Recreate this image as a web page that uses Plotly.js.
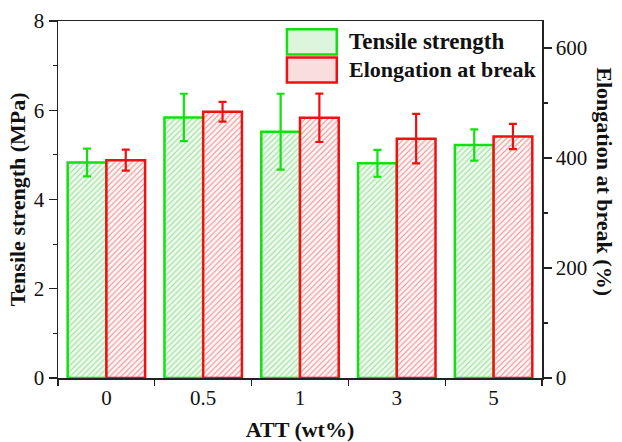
<!DOCTYPE html>
<html>
<head>
<meta charset="utf-8">
<script src="https://cdn.plot.ly/plotly-3.0.1.min.js"></script>
<style>html,body{margin:0;padding:0;background:#fff;}#chart{width:622px;height:442px;}</style>
</head>
<body>
<div id="chart"></div>
<script>
var categories = ['0', '0.5', '1', '3', '5'];
var tensileStrength = [4.83, 5.84, 5.52, 4.81, 5.22];
var tensileError = [0.31, 0.53, 0.85, 0.30, 0.35];
var elongation = [396, 484, 473, 435, 439];
var elongationError = [19, 18, 44, 45, 23];
var seriesNames = ['Tensile strength', 'Elongation at break'];

var green = '#11e011';
var red = '#ee1111';
var FONT = "'Liberation Serif', 'Times New Roman', serif";

var traces = [
  {
    type: 'bar', name: seriesNames[0], x: categories, y: tensileStrength,
    xaxis: 'x', yaxis: 'y', offsetgroup: '1', showlegend: false,
    marker: {color: '#eefaee', line: {color: green, width: 2.5},
      pattern: {shape: '/', fgcolor: '#98de98', bgcolor: '#effaef', size: 4, solidity: 0.28}},
    error_y: {type: 'data', array: tensileError, visible: true, color: green, thickness: 2.2, width: 4}
  },
  {
    type: 'bar', name: seriesNames[1], x: categories, y: elongation,
    xaxis: 'x', yaxis: 'y2', offsetgroup: '2', showlegend: false,
    marker: {color: '#fff4f4', line: {color: red, width: 2.5},
      pattern: {shape: '/', fgcolor: '#e89090', bgcolor: '#fff5f5', size: 4, solidity: 0.28}},
    error_y: {type: 'data', array: elongationError, visible: true, color: red, thickness: 2.2, width: 4}
  }
];

var layout = {
  width: 622, height: 442,
  margin: {l: 58, r: 80, t: 21, b: 64},
  paper_bgcolor: '#fff', plot_bgcolor: '#fff',
  font: {family: FONT, size: 20, color: '#111'},
  barmode: 'group', bargap: 0.2, bargroupgap: 0,
  showlegend: false,
  xaxis: {
    type: 'category', showgrid: false, zeroline: false,
    showline: true, linecolor: '#222', linewidth: 1.5, mirror: true,
    ticks: 'outside', tickson: 'boundaries', ticklen: 6, tickwidth: 1.2, tickcolor: '#222',
    tickfont: {family: FONT, size: 21, color: '#111'},
    title: {text: '<b>ATT (wt%)</b>', font: {family: FONT, size: 22, color: '#111'}, standoff: 16}
  },
  yaxis: {
    range: [0, 8], dtick: 2, showgrid: false, zeroline: false,
    showline: true, linecolor: '#222', linewidth: 1.5,
    ticks: 'outside', ticklen: 8, tickwidth: 1.2, tickcolor: '#222',
    minor: {dtick: 1, ticks: 'outside', ticklen: 4, tickwidth: 1.2, tickcolor: '#222', showgrid: false},
    tickfont: {family: FONT, size: 21, color: '#111'}
  },
  yaxis2: {
    overlaying: 'y', side: 'right', range: [0, 649], dtick: 200, showgrid: false, zeroline: false,
    showline: true, linecolor: '#222', linewidth: 1.5,
    ticks: 'outside', ticklen: 8, tickwidth: 1.2, tickcolor: '#222',
    minor: {dtick: 100, ticks: 'outside', ticklen: 4, tickwidth: 1.2, tickcolor: '#222', showgrid: false},
    tickfont: {family: FONT, size: 21, color: '#111'}
  },
  shapes: [
    {type: 'rect', xref: 'paper', yref: 'paper', x0: 0.473, x1: 0.576, y0: 0.906, y1: 0.977,
      fillcolor: '#dcf5dc', line: {color: green, width: 2.5}},
    {type: 'rect', xref: 'paper', yref: 'paper', x0: 0.473, x1: 0.576, y0: 0.828, y1: 0.898,
      fillcolor: '#fadede', line: {color: red, width: 2.5}}
  ],
  annotations: [
    {xref: 'paper', yref: 'paper', x: 0.597, y: 0.942, xanchor: 'left', yanchor: 'middle', showarrow: false,
      text: '<b>' + seriesNames[0] + '</b>', font: {family: FONT, size: 23, color: '#111'}},
    {xref: 'paper', yref: 'paper', x: 0.597, y: 0.863, xanchor: 'left', yanchor: 'middle', showarrow: false,
      text: '<b>' + seriesNames[1] + '</b>', font: {family: FONT, size: 22, color: '#111'}},
    {xref: 'paper', yref: 'paper', x: -0.083, y: 0.5, xanchor: 'center', yanchor: 'middle', showarrow: false,
      textangle: -90, text: '<b>Tensile strength (MPa)</b>', font: {family: FONT, size: 22, color: '#111'}},
    {xref: 'paper', yref: 'paper', x: 1.129, y: 0.55, xanchor: 'center', yanchor: 'middle', showarrow: false,
      textangle: 90, text: '<b>Elongation at break (%)</b>', font: {family: FONT, size: 22, color: '#111'}}
  ]
};

Plotly.newPlot('chart', traces, layout, {displayModeBar: false, staticPlot: true});
</script>
</body>
</html>
